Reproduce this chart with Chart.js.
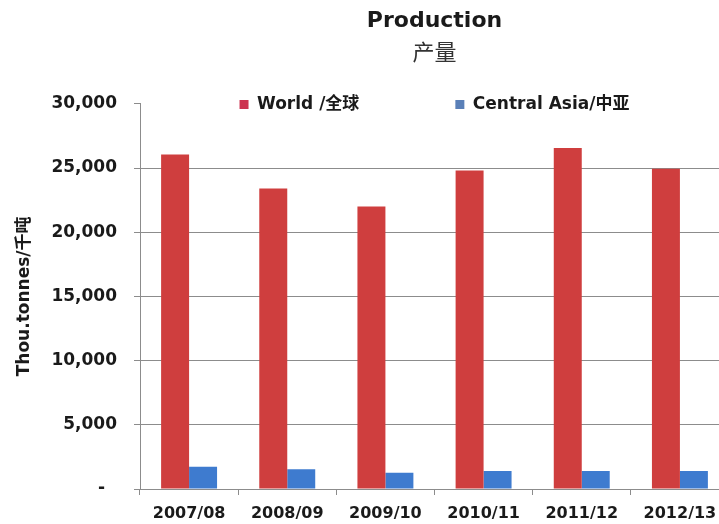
<!DOCTYPE html>
<html>
<head>
<meta charset="utf-8">
<script src="https://cdn.jsdelivr.net/npm/chart.js@4"></script>
<style>
  html, body { margin: 0; padding: 0; background: #ffffff; overflow: hidden; }
  #wrap { width: 719px; height: 524px; overflow: hidden; position: relative; }
  canvas { display: block; }
</style>
</head>
<body>
<div id="wrap"><canvas id="c" width="870" height="524"></canvas></div>
<script>
const categories = ['2007/08', '2008/09', '2009/10', '2010/11', '2011/12', '2012/13'];
const worldValues = [26050, 23400, 22000, 24800, 26550, 24950];
const centralAsiaValues = [1730, 1530, 1270, 1400, 1400, 1400];
const seriesNames = ['World /全球', 'Central Asia/中亚'];
const yTickLabels = ['-', '5,000', '10,000', '15,000', '20,000', '25,000', '30,000'];
const titleText = 'Production';
const subtitleText = '产量';
const yAxisTitle = 'Thou.tonnes/千吨';

const FONT = '"DejaVu Sans", "Noto Sans CJK SC", sans-serif';
const barColors = ['#CF3E3E', '#3E7BCF'];
const legendColors = ['#CC3450', '#5A80B8'];
const axisGray = '#8c8c8c';
const textColor = '#1a1a1a';

// Lets the legend row sit over the top of the plot area (as in the original layout)
const legendOverlay = {
  id: 'legendOverlay',
  beforeLayout(chart) {
    const lg = chart.legend;
    if (lg && !lg._overlayPatched) {
      const fit = lg.fit;
      lg.fit = function () {
        fit.call(this);
        this._realHeight = this.height;
        this.height = 0;
      };
      lg._overlayPatched = true;
    }
  },
  afterLayout(chart) {
    const lg = chart.legend;
    if (lg && lg._realHeight) {
      lg.height = lg._realHeight;
      lg.bottom = lg.top + lg._realHeight;
    }
  }
};

new Chart(document.getElementById('c'), {
  type: 'bar',
  data: {
    labels: categories,
    datasets: [
      { label: seriesNames[0], data: worldValues, backgroundColor: barColors[0], borderWidth: 0 },
      { label: seriesNames[1], data: centralAsiaValues, backgroundColor: barColors[1], borderWidth: 0 }
    ]
  },
  plugins: [legendOverlay],
  options: {
    responsive: false,
    animation: false,
    events: [],
    devicePixelRatio: 1,
    layout: { padding: { left: 0, right: 141, top: 0, bottom: 0 } },
    datasets: { bar: { categoryPercentage: 0.57, barPercentage: 1.0 } },
    plugins: {
      tooltip: { enabled: false },
      legend: {
        position: 'top',
        weight: 3000,
        fullSize: false,
        labels: {
          boxWidth: 9,
          boxHeight: 9,
          padding: 96,
          color: textColor,
          font: { family: FONT, size: 17, weight: 'bold' },
          generateLabels(chart) {
            const items = Chart.defaults.plugins.legend.labels.generateLabels(chart);
            items.forEach((it, i) => { it.fillStyle = legendColors[i]; it.strokeStyle = legendColors[i]; it.lineWidth = 0; });
            return items;
          }
        }
      },
      title: {
        display: true,
        text: titleText,
        fullSize: false,
        color: textColor,
        font: { family: FONT, size: 22, weight: 'bold', lineHeight: 1.2 },
        padding: { top: 8, bottom: 0 }
      },
      subtitle: {
        display: true,
        text: subtitleText,
        fullSize: false,
        color: '#333333',
        font: { family: '"Noto Sans CJK SC", sans-serif', size: 22, weight: 'normal', lineHeight: 1.2 },
        padding: { top: 4, bottom: 39 }
      }
    },
    scales: {
      x: {
        afterFit(scale) { scale.height = 35; },
        grid: {
          offset: true,
          drawOnChartArea: false,
          drawTicks: true,
          tickLength: 6,
          color: axisGray
        },
        border: { display: true, color: axisGray, width: 1 },
        ticks: {
          color: textColor,
          padding: 9,
          maxRotation: 0,
          autoSkip: false,
          font: { family: FONT, size: 16, weight: 'bold', lineHeight: 1.2 }
        }
      },
      y: {
        min: 0,
        max: 30000,
        afterFit(scale) { scale.width = 140; },
        title: {
          display: true,
          text: yAxisTitle,
          color: textColor,
          font: { family: FONT, size: 17, weight: 'bold', lineHeight: 1.2 },
          padding: { top: 14, bottom: 0 }
        },
        grid: {
          drawTicks: true,
          tickLength: 6,
          color: (ctx) => (ctx.tick && ctx.tick.value === 30000) ? 'rgba(0,0,0,0)' : axisGray,
          tickColor: axisGray,
          lineWidth: 1
        },
        border: { display: true, color: axisGray, width: 1 },
        ticks: {
          stepSize: 5000,
          padding: 17,
          color: textColor,
          font: { family: FONT, size: 17, weight: 'bold' },
          callback: (v, i) => (i === 0 ? yTickLabels[i] + '  ' : yTickLabels[i])
        }
      }
    }
  }
});
</script>
</body>
</html>
